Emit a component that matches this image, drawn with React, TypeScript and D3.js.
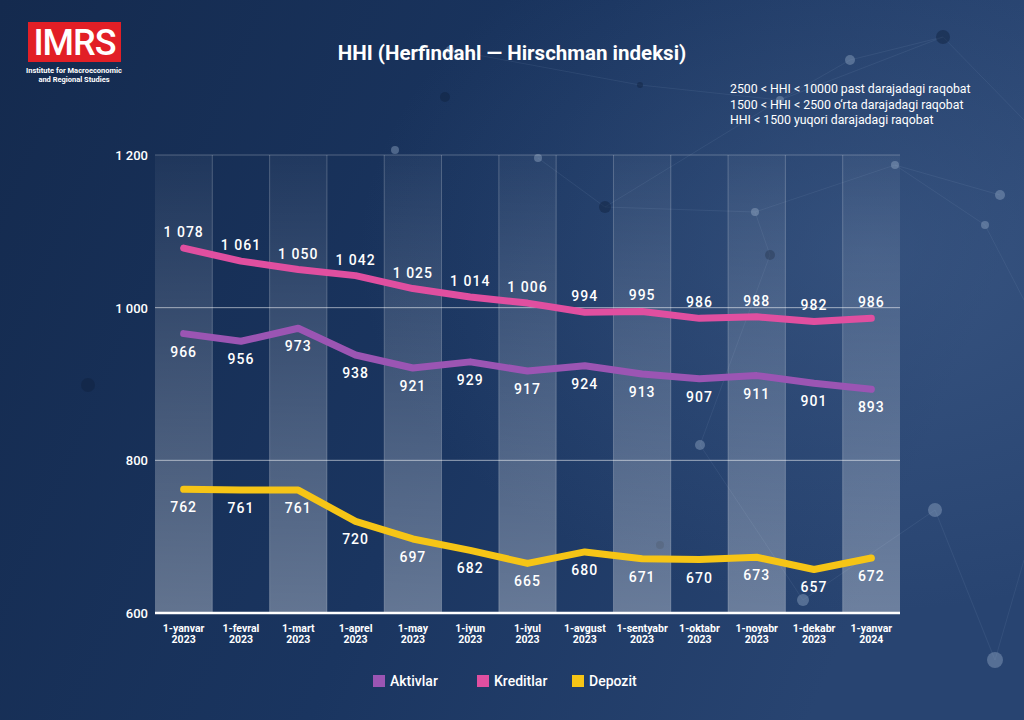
import React from "react";
import * as d3 from "d3";

const categories = ["1-yanvar|2023","1-fevral|2023","1-mart|2023","1-aprel|2023","1-may|2023","1-iyun|2023","1-iyul|2023","1-avgust|2023","1-sentyabr|2023","1-oktabr|2023","1-noyabr|2023","1-dekabr|2023","1-yanvar|2024"];
const aktivlar = [966,956,973,938,921,929,917,924,913,907,911,901,893];
const kreditlar = [1078,1061,1050,1042,1025,1014,1006,994,995,986,988,982,986];
const depozit = [762,761,761,720,697,682,665,680,671,670,673,657,672];
const yTicks = [600,800,1000,1200];
const legendNotes = ["2500 < HHI < 10000 past darajadagi raqobat","1500 < HHI < 2500 o‘rta darajadagi raqobat","HHI < 1500 yuqori darajadagi raqobat"];

const series = [
  { name: "Aktivlar", values: aktivlar, color: "#9b55b3", labelDy: 18 },
  { name: "Kreditlar", values: kreditlar, color: "#e04fa0", labelDy: -16 },
  { name: "Depozit", values: depozit, color: "#f6c516", labelDy: 18 },
];

const dots: [number, number, number][] = [[445,97,5],[395,150,4],[538,158,4],[943,37,7],[895,165,4],[755,212,4],[605,207,6],[1000,195,5],[780,100,4],[88,385,7],[935,510,7],[995,660,8],[660,545,4],[803,600,6],[700,445,5],[770,255,5],[985,225,4],[450,50,4],[640,85,3],[850,60,5]];
const netLines: [number, number, number, number][] = [[943,37,780,100],[780,100,605,207],[605,207,755,212],[755,212,895,165],[895,165,1000,195],[943,37,1024,120],[780,100,850,60],[850,60,943,37],[605,207,538,158],[755,212,770,255],[770,255,700,445],[700,445,803,600],[803,600,935,510],[935,510,995,660],[995,660,1024,560],[640,85,780,100],[450,50,640,85],[985,225,1024,300],[895,165,985,225]];

export default function App() {
  const W = 1024, H = 720;
  const left = 155, right = 900, top = 155, bottom = 613;
  const x = d3.scaleBand<number>().domain(d3.range(categories.length)).range([left, right]).paddingInner(0).paddingOuter(0);
  const y = d3.scaleLinear().domain([600, 1200]).range([bottom, top]);
  const fmt = d3.formatLocale({ decimal: ",", thousands: "\u00a0", grouping: [3], currency: ["", ""] }).format(",d");
  const line = d3.line<number>().x((_, i) => (x(i) as number) + x.bandwidth() / 2).y((d) => y(d)).curve(d3.curveLinear);
  const font = "Roboto, sans-serif";

  return (
    <svg width={W} height={H} style={{ position: "absolute", left: 0, top: 0, display: "block" }}>
      <defs>
        <linearGradient id="bg" x1="0" y1="0" x2="1" y2="0.3">
          <stop offset="0" stopColor="#142a4e" />
          <stop offset="0.55" stopColor="#1a3560" />
          <stop offset="1" stopColor="#284471" />
        </linearGradient>
        <radialGradient id="glow" cx="0.85" cy="0.35" r="0.5">
          <stop offset="0" stopColor="#4d6a96" stopOpacity="0.4" />
          <stop offset="1" stopColor="#4d6a96" stopOpacity="0" />
        </radialGradient>
        <linearGradient id="col" x1="0" y1="0" x2="0" y2="1">
          <stop offset="0" stopColor="#ffffff" stopOpacity="0.04" />
          <stop offset="1" stopColor="#ffffff" stopOpacity="0.32" />
        </linearGradient>
      </defs>
      <rect width={W} height={H} fill="url(#bg)" />
      <rect width={W} height={H} fill="url(#glow)" />
      {netLines.map((l, i) => (
        <line key={i} x1={l[0]} y1={l[1]} x2={l[2]} y2={l[3]} stroke="#8fa6c8" strokeOpacity={0.12} strokeWidth={1} />
      ))}
      {dots.map((d, i) => (
        <circle key={i} cx={d[0]} cy={d[1]} r={d[2]} fill={i % 3 === 0 ? "#0f223f" : "#8fa3c2"} fillOpacity={0.45} />
      ))}

      {/* logo */}
      <rect x={28} y={22} width={93} height={40} fill="#e21f26" />
      <text x={74.5} y={55} textAnchor="middle" fill="#fff" fontFamily={font} fontSize={36} fontWeight={500} letterSpacing={-1}>IMRS</text>
      <text x={74} y={73} textAnchor="middle" fill="#fff" fontFamily={font} fontSize={7.5} fontWeight={700}>Institute for Macroeconomic</text>
      <text x={74} y={82} textAnchor="middle" fill="#fff" fontFamily={font} fontSize={7.5} fontWeight={700}>and Regional Studies</text>

      <text x={512} y={60} textAnchor="middle" fill="#fff" fontFamily={font} fontSize={20.5} fontWeight={700}>HHI (Herfindahl — Hirschman indeksi)</text>
      {legendNotes.map((t, i) => (
        <text key={i} x={730} y={93 + i * 15.5} fill="#fff" fontFamily={font} fontSize={12.3}>{t}</text>
      ))}

      {/* columns */}
      {categories.map((_, i) =>
        i % 2 === 0 ? <rect key={i} x={x(i)} y={top} width={x.bandwidth()} height={bottom - top} fill="url(#col)" /> : null
      )}
      {categories.map((_, i) => (i > 0 ? <line key={"v" + i} x1={x(i)} x2={x(i)} y1={top} y2={bottom} stroke="#fff" strokeOpacity={0.22} /> : null))}
      {yTicks.map((t) => (
        <g key={t}>
          {t !== 600 && <line x1={left} x2={right} y1={y(t)} y2={y(t)} stroke="#fff" strokeOpacity={t === 1200 ? 0.25 : 0.55} strokeWidth={1} />}
          <text x={148} y={y(t) + 5} textAnchor="end" fill="#fff" fontFamily={font} fontSize={13} fontWeight={500}>{fmt(t)}</text>
        </g>
      ))}
      <line x1={left} x2={right} y1={bottom} y2={bottom} stroke="#fff" strokeWidth={2.5} />

      {categories.map((c, i) => {
        const [a, b] = c.split("|");
        const cx = (x(i) as number) + x.bandwidth() / 2;
        return (
          <text key={c + i} x={cx} y={632} textAnchor="middle" fill="#fff" fontFamily={font} fontSize={10.5} fontWeight={700}>
            <tspan x={cx}>{a}</tspan>
            <tspan x={cx} dy={11}>{b}</tspan>
          </text>
        );
      })}

      {series.map((s) => (
        <g key={s.name}>
          <path d={line(s.values) || ""} fill="none" stroke={s.color} strokeWidth={7} strokeLinejoin="round" strokeLinecap="round" />
          {s.values.map((v, i) => (
            <text key={i} x={(x(i) as number) + x.bandwidth() / 2} y={y(v) + s.labelDy + 5} textAnchor="middle" fill="#fff" fontFamily={font} fontSize={14} fontWeight={500} letterSpacing={1}>{fmt(v)}</text>
          ))}
        </g>
      ))}

      {/* legend */}
      {series.map((s, i) => {
        const lx = [373, 477, 572][i];
        return (
          <g key={s.name}>
            <rect x={lx} y={675} width={12} height={12} fill={s.color} />
            <text x={lx + 17} y={686} fill="#fff" fontFamily={font} fontSize={14} fontWeight={500}>{s.name}</text>
          </g>
        );
      })}
    </svg>
  );
}
